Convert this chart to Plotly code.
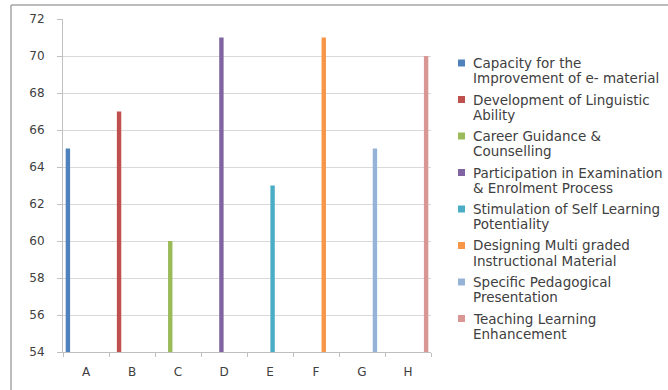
import plotly.graph_objects as go

categories = ["A", "B", "C", "D", "E", "F", "G", "H"]
series_names = [
    "Capacity for the<br>Improvement of e- material",
    "Development of Linguistic<br>Ability",
    "Career Guidance &<br>Counselling",
    "Participation in Examination<br>& Enrolment Process",
    "Stimulation of Self Learning<br>Potentiality",
    "Designing Multi graded<br>Instructional Material",
    "Specific Pedagogical<br>Presentation",
    "Teaching Learning<br>Enhancement",
]
values = [65, 67, 60, 71, 63, 71, 65, 70]
colors = ["#4F81BD", "#C0504D", "#9BBB59", "#8064A2", "#4BACC6", "#F79646", "#95B3D7", "#D99694"]
y_ticks = [54, 56, 58, 60, 62, 64, 66, 68, 70, 72]

W, H = 668, 390
L, R, T, B = 63, 431, 19, 352
font_family = "DejaVu Sans, sans-serif"
text_color = "#404040"

def px2x(px):
    return (px - L) / (R - L)

def px2y(py):
    return (B - py) / (B - T)

fig = go.Figure()
for i, name in enumerate(series_names):
    yvals = [values[i] if j == i else None for j in range(len(categories))]
    fig.add_trace(go.Bar(
        x=categories, y=yvals, name=name.replace("<br>", " "),
        marker_color=colors[i], marker_line_width=0, showlegend=False,
    ))

# legend drawn as squares + text lines
shapes = [
    dict(type="line", xref="paper", yref="paper",
         x0=px2x(11), x1=px2x(668), y0=px2y(5), y1=px2y(5),
         line=dict(color="#A6A6A6", width=1.5)),
    dict(type="line", xref="paper", yref="paper",
         x0=px2x(11), x1=px2x(11), y0=px2y(5), y1=px2y(390),
         line=dict(color="#A6A6A6", width=1.5)),
]
annotations = []
first_line_y = 63.0
entry_step = 36.5
line_step = 15.0
for i, name in enumerate(series_names):
    y0 = first_line_y + i * entry_step
    shapes.append(dict(
        type="rect", xref="paper", yref="paper",
        x0=px2x(458), x1=px2x(465), y0=px2y(y0 - 3.5), y1=px2y(y0 + 3.5),
        fillcolor=colors[i], line=dict(width=0),
    ))
    for k, line in enumerate(name.split("<br>")):
        annotations.append(dict(
            xref="paper", yref="paper", x=px2x(471), y=px2y(y0 + k * line_step),
            xanchor="left", yanchor="middle", showarrow=False, text=line,
            font=dict(size=13.5, family=font_family, color=text_color),
        ))

fig.update_layout(
    width=W, height=H,
    margin=dict(l=L, r=W - R, t=T, b=H - B, pad=0),
    paper_bgcolor="white", plot_bgcolor="white",
    barmode="group", bargap=0.1, bargroupgap=0.15,
    font=dict(family=font_family, color=text_color),
    showlegend=False,
    xaxis=dict(
        type="category", categoryorder="array", categoryarray=categories,
        showgrid=False, showline=True, linecolor="#BFBFBF", linewidth=1,
        ticks="outside", tickson="boundaries", ticklen=4, tickcolor="#BFBFBF",
        tickfont=dict(size=12, color=text_color), ticklabelstandoff=9,
    ),
    yaxis=dict(
        range=[54, 72], tickvals=y_ticks, ticktext=[str(v) for v in y_ticks],
        showgrid=True, gridcolor="#D9D9D9", gridwidth=1,
        showline=True, linecolor="#BFBFBF", linewidth=1,
        ticks="outside", ticklen=5, tickcolor="#BFBFBF",
        tickfont=dict(size=12, color=text_color), ticklabelstandoff=10,
        zeroline=False,
    ),
    shapes=shapes,
    annotations=annotations,
)

fig.write_html("out.html")
